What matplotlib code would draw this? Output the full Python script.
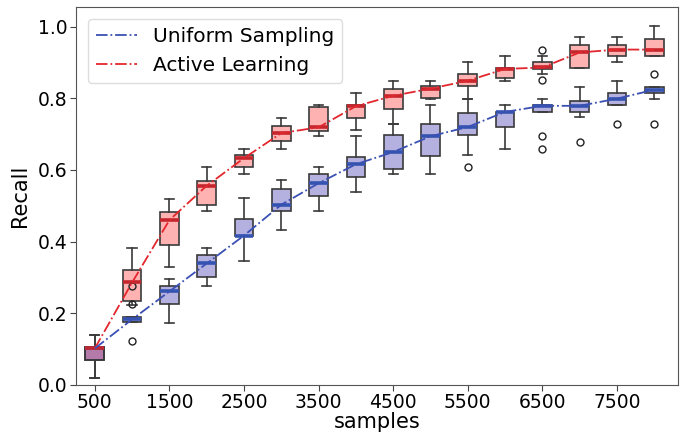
"""Recall of uniform sampling vs active learning as the labelled pool grows."""

import matplotlib

matplotlib.use("Agg")
import matplotlib.pyplot as plt

SAMPLES = [500, 1000, 1500, 2000, 2500, 3000, 3500, 4000,
           4500, 5000, 5500, 6000, 6500, 7000, 7500, 8000]
TICK_SAMPLES = [500, 1500, 2500, 3500, 4500, 5500, 6500, 7500]

# five-number summaries per sample size, plus outliers
UNIFORM_MED = [0.102, 0.183, 0.261, 0.339, 0.417, 0.503, 0.563, 0.616,
               0.650, 0.694, 0.720, 0.762, 0.779, 0.779, 0.799, 0.824]
UNIFORM_Q1 = [0.070, 0.176, 0.225, 0.300, 0.415, 0.486, 0.526, 0.579,
              0.602, 0.638, 0.698, 0.720, 0.763, 0.763, 0.780, 0.816]
UNIFORM_Q3 = [0.105, 0.190, 0.277, 0.364, 0.464, 0.547, 0.588, 0.636,
              0.697, 0.728, 0.759, 0.763, 0.780, 0.793, 0.815, 0.831]
UNIFORM_LO = [0.019, 0.176, 0.174, 0.277, 0.347, 0.433, 0.486, 0.538,
              0.590, 0.589, 0.642, 0.659, 0.763, 0.747, 0.780, 0.799]
UNIFORM_HI = [0.140, 0.190, 0.295, 0.381, 0.521, 0.573, 0.607, 0.694,
              0.728, 0.780, 0.797, 0.780, 0.798, 0.831, 0.849, 0.831]
UNIFORM_OUT = [[], [0.277, 0.226, 0.123], [], [], [], [], [], [],
               [], [], [0.607], [], [0.694, 0.659], [0.677], [0.728], [0.728]]

ACTIVE_MED = [0.102, 0.286, 0.460, 0.556, 0.633, 0.703, 0.719, 0.778,
              0.807, 0.827, 0.849, 0.882, 0.886, 0.928, 0.936, 0.936]
ACTIVE_Q1 = [0.070, 0.235, 0.391, 0.503, 0.607, 0.682, 0.710, 0.745,
             0.771, 0.801, 0.833, 0.858, 0.883, 0.885, 0.919, 0.919]
ACTIVE_Q3 = [0.105, 0.322, 0.484, 0.568, 0.641, 0.723, 0.775, 0.780,
             0.827, 0.834, 0.868, 0.885, 0.901, 0.950, 0.950, 0.966]
ACTIVE_LO = [0.019, 0.222, 0.329, 0.486, 0.589, 0.659, 0.694, 0.712,
             0.728, 0.799, 0.798, 0.849, 0.868, 0.885, 0.901, 0.919]
ACTIVE_HI = [0.140, 0.382, 0.520, 0.607, 0.658, 0.745, 0.780, 0.815,
             0.849, 0.849, 0.901, 0.919, 0.919, 0.971, 0.971, 1.003]
ACTIVE_OUT = [[], [], [], [], [], [], [], [],
              [], [], [], [], [0.936, 0.850], [], [], [0.868]]


def stats(med, q1, q3, lo, hi, out):
    return [dict(med=m, q1=a, q3=b, whislo=l, whishi=h, fliers=f)
            for m, a, b, l, h, f in zip(med, q1, q3, lo, hi, out)]


def draw(ax, boxes, positions, face, median_color, line_color, label,
         box_z, median_z):
    edge = "#3a3a3a"
    ax.bxp(boxes, positions=positions, widths=0.5, patch_artist=True,
           zorder=box_z,
           boxprops=dict(facecolor=face, edgecolor=edge, linewidth=1.2),
           whiskerprops=dict(color=edge, linewidth=1.2),
           capprops=dict(color=edge, linewidth=1.2),
           medianprops=dict(color=median_color, linewidth=2.6, zorder=median_z),
           flierprops=dict(marker="o", markerfacecolor="none",
                           markeredgecolor="#222222", markersize=5))
    meds = [b["med"] for b in boxes]
    line, = ax.plot(positions, meds, linestyle="-.", color=line_color,
                    linewidth=1.3, label=label, zorder=4)
    return line


def main():
    fig = plt.figure(figsize=(6.86, 4.34), dpi=100)
    ax = fig.add_axes([0.111, 0.113, 0.877, 0.871])
    positions = list(range(1, len(SAMPLES) + 1))

    h_act = draw(ax, stats(ACTIVE_MED, ACTIVE_Q1, ACTIVE_Q3, ACTIVE_LO,
                           ACTIVE_HI, ACTIVE_OUT),
                 positions, (1.0, 0.0, 0.0, 0.3), "#c4262e", "#e3262d",
                 "Active Learning", 2.0, 3.2)
    h_uni = draw(ax, stats(UNIFORM_MED, UNIFORM_Q1, UNIFORM_Q3, UNIFORM_LO,
                           UNIFORM_HI, UNIFORM_OUT),
                 positions, (0.05, 0.0, 0.6, 0.31), "#3553b0", "#3a50b4",
                 "Uniform Sampling", 2.2, 3.0)

    tick_pos = [positions[SAMPLES.index(s)] for s in TICK_SAMPLES]
    ax.set_xticks(tick_pos, [str(s) for s in TICK_SAMPLES])
    ax.set_xlim(0.5, 16.63)
    ax.set_ylim(0, 1.055)
    ax.set_yticks([0.0, 0.2, 0.4, 0.6, 0.8, 1.0])
    ax.tick_params(labelsize=13.5, length=4, pad=2, color="#444444")
    ax.set_xlabel("samples", fontsize=15, labelpad=0)
    ax.set_ylabel("Recall", fontsize=15, labelpad=6)
    for spine in ax.spines.values():
        spine.set_color("#555555")

    ax.legend(handles=[h_uni, h_act], loc="upper left", fontsize=14.5,
              framealpha=1.0, edgecolor="#dddddd", borderaxespad=0.6)
    fig.savefig("out.png", dpi=100)
    plt.close(fig)


if __name__ == "__main__":
    main()
